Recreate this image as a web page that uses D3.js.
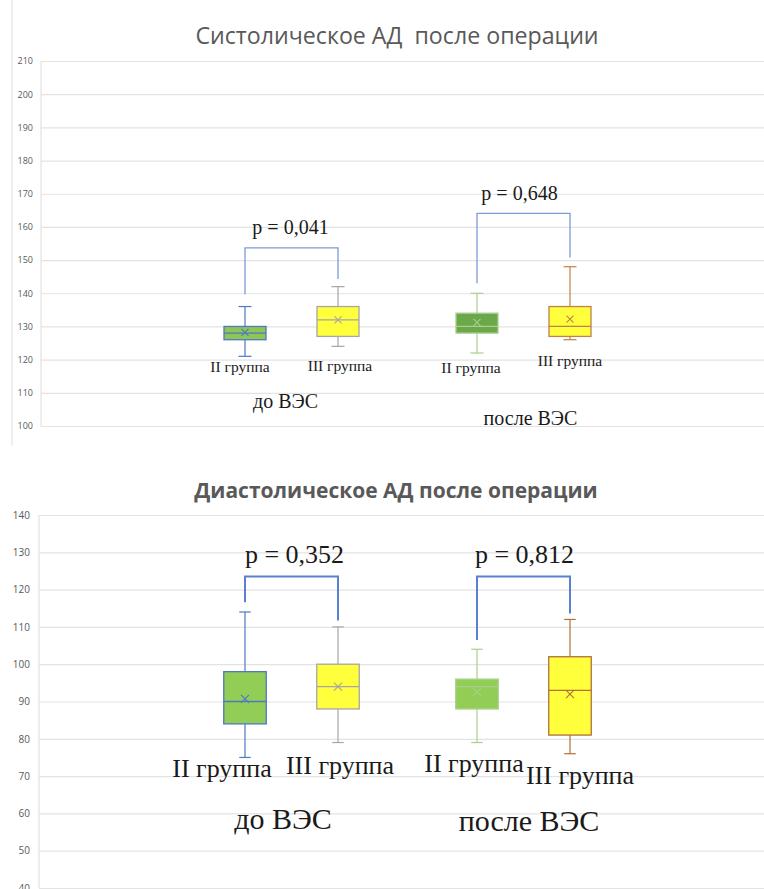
<!DOCTYPE html>
<html>
<head>
<meta charset="utf-8">
<script src="https://cdn.jsdelivr.net/npm/d3@7"></script>
<style>
  html, body { margin: 0; padding: 0; background: #ffffff; }
  svg { display: block; }
</style>
</head>
<body>
<svg id="chart" width="764" height="889"></svg>
<script>
// ---- data ----
const periods = ["до ВЭС", "после ВЭС"];
const groups = ["II группа", "III группа"];

// systolic BP, order: II до, III до, II после, III после
const sysLow    = [121, 124, 122, 126];
const sysQ1     = [126, 127, 128, 127];
const sysMedian = [128, 132, 130, 130];
const sysQ3     = [130, 136, 134, 136];
const sysHigh   = [136, 142, 140, 148];
const sysMean   = [128.2, 132, 131.2, 132.2];
const sysTicks  = [100, 110, 120, 130, 140, 150, 160, 170, 180, 190, 200, 210];
const sysP      = ["p = 0,041", "p = 0,648"];
// bracket: top level, left leg end, right leg end (mmHg)
const sysBracketTop   = [153.7, 164.1];
const sysBracketLeft  = [139.7, 143.0];
const sysBracketRight = [144.3, 150.8];

// diastolic BP
const diaLow    = [75, 79, 79, 76];
const diaQ1     = [84, 88, 88, 81];
const diaMedian = [90, 94, 94, 93];
const diaQ3     = [98, 100, 96, 102];
const diaHigh   = [114, 110, 104, 112];
const diaMean   = [90.7, 94, 92.5, 92];
const diaTicks  = [40, 50, 60, 70, 80, 90, 100, 110, 120, 130, 140];
const diaP      = ["p = 0,352", "p = 0,812"];
const diaBracketTop   = [123.5, 123.5];
const diaBracketLeft  = [116.6, 106.5];
const diaBracketRight = [111.7, 113.6];

// ---- helpers ----
const svg = d3.select("#chart");
const serif = "'Liberation Serif', 'Times New Roman', serif";
const sans = "'Open Sans', 'Noto Sans', sans-serif";

const outerX = d3.scalePoint().domain(periods).range([59.5, 755.5]).padding(1);
const innerX = d3.scalePoint().domain(groups).range([-46.5, 46.5]);

function buildRows(low, q1, med, q3, high, mean) {
  const rows = [];
  periods.forEach((p, pi) => groups.forEach((g, gi) => {
    const i = pi * 2 + gi;
    rows.push({ period: p, group: g, i, low: low[i], q1: q1[i], med: med[i], q3: q3[i], high: high[i], mean: mean[i] });
  }));
  return rows;
}

function drawChart(cfg) {
  const g = svg.append("g");
  const y = d3.scaleLinear().domain(cfg.domain).range(cfg.yRange);

  // gridlines + axis labels
  const axis = d3.axisLeft(y).tickValues(cfg.ticks).tickSize(-(cfg.xRight - cfg.xLeft)).tickPadding(cfg.tickPad);
  const ax = g.append("g").attr("transform", `translate(${cfg.xLeft},0)`).call(axis);
  ax.select(".domain").attr("stroke", "#dcdcdc").attr("d", `M0,${y(cfg.domain[1])}V${y(cfg.domain[0])}`);
  ax.selectAll(".tick line").attr("stroke", "#e3e3e3").attr("stroke-width", 1.2);
  ax.selectAll(".tick text").attr("fill", "#595959").style("font-family", sans).style("font-size", cfg.tickFont + "px");

  // title
  g.append("text")
    .attr("x", cfg.titleX).attr("y", cfg.titleY)
    .attr("text-anchor", "middle")
    .attr("fill", "#595959")
    .style("font-family", sans)
    .style("font-weight", cfg.titleWeight)
    .style("font-size", cfg.titleSize + "px")
    .style("white-space", "pre")
    .text(cfg.title);

  const rows = cfg.rows;
  const cx = d => outerX(d.period) + innerX(d.group);
  const half = cfg.boxW / 2, cap = cfg.capW / 2;

  const box = g.selectAll(".box").data(rows).join("g").attr("class", "box");
  // whiskers
  box.append("line").attr("x1", cx).attr("x2", cx).attr("y1", d => y(d.q3)).attr("y2", d => y(d.high))
    .attr("stroke", d => cfg.whisker[d.i]).attr("stroke-width", 1.2);
  box.append("line").attr("x1", cx).attr("x2", cx).attr("y1", d => y(d.q1)).attr("y2", d => y(d.low))
    .attr("stroke", d => cfg.whisker[d.i]).attr("stroke-width", 1.2);
  box.append("line").attr("x1", d => cx(d) - cap).attr("x2", d => cx(d) + cap).attr("y1", d => y(d.high)).attr("y2", d => y(d.high))
    .attr("stroke", d => cfg.whisker[d.i]).attr("stroke-width", 1.2);
  box.append("line").attr("x1", d => cx(d) - cap).attr("x2", d => cx(d) + cap).attr("y1", d => y(d.low)).attr("y2", d => y(d.low))
    .attr("stroke", d => cfg.whisker[d.i]).attr("stroke-width", 1.2);
  // box
  box.append("rect").attr("x", d => cx(d) - half).attr("width", cfg.boxW)
    .attr("y", d => y(d.q3)).attr("height", d => y(d.q1) - y(d.q3))
    .attr("fill", d => cfg.fill[d.i]).attr("stroke", d => cfg.stroke[d.i]).attr("stroke-width", 1.3);
  // median
  box.append("line").attr("x1", d => cx(d) - half).attr("x2", d => cx(d) + half)
    .attr("y1", d => y(d.med)).attr("y2", d => y(d.med))
    .attr("stroke", d => cfg.stroke[d.i]).attr("stroke-width", 1.3);
  // mean marker
  const m = cfg.markSize / 2;
  box.append("path")
    .attr("d", d => { const x0 = cx(d), y0 = y(d.mean); return `M${x0 - m},${y0 - m}L${x0 + m},${y0 + m}M${x0 - m},${y0 + m}L${x0 + m},${y0 - m}`; })
    .attr("stroke", d => cfg.stroke[d.i]).attr("stroke-width", 1.1).attr("fill", "none");

  // group labels under boxes
  g.selectAll(".glabel").data(rows).join("text").attr("class", "glabel")
    .attr("x", d => cx(d) + cfg.labelDx[d.i]).attr("y", d => cfg.labelY[d.i])
    .attr("text-anchor", "middle").attr("dominant-baseline", "central")
    .attr("fill", "#1a1a1a").style("font-family", serif).style("font-size", cfg.labelSize + "px")
    .text(d => d.group);

  // period labels
  g.selectAll(".plabel").data(periods).join("text").attr("class", "plabel")
    .attr("x", (d, i) => outerX(d) + cfg.periodDx[i]).attr("y", (d, i) => cfg.periodY[i])
    .attr("text-anchor", "middle").attr("dominant-baseline", "central")
    .attr("fill", "#1a1a1a").style("font-family", serif).style("font-size", cfg.periodSize + "px")
    .text(d => d);

  // significance brackets
  periods.forEach((p, pi) => {
    const xl = outerX(p) + innerX(groups[0]);
    const xr = outerX(p) + innerX(groups[1]);
    const yt = y(cfg.bTop[pi]);
    g.append("path")
      .attr("d", `M${xl},${y(cfg.bLeft[pi])}V${yt}H${xr}V${y(cfg.bRight[pi])}`)
      .attr("fill", "none").attr("stroke", cfg.bColor).attr("stroke-width", cfg.bWidth);
    g.append("text")
      .attr("x", (xl + xr) / 2 + cfg.pDx[pi]).attr("y", yt - cfg.pGap)
      .attr("text-anchor", "middle")
      .attr("fill", "#1a1a1a").style("font-family", serif).style("font-size", cfg.pSize + "px")
      .text(cfg.pText[pi]);
  });
}

// left frame line of the upper panel
svg.append("line").attr("x1", 12).attr("x2", 12).attr("y1", 0).attr("y2", 446)
  .attr("stroke", "#e6e6e6").attr("stroke-width", 1.2);

drawChart({
  title: "Систолическое АД  после операции",
  titleX: 397, titleY: 44, titleSize: 23.2, titleWeight: 400,
  domain: [100, 210], yRange: [426, 61], ticks: sysTicks,
  xLeft: 41, xRight: 764, tickPad: 8, tickFont: 9,
  rows: buildRows(sysLow, sysQ1, sysMedian, sysQ3, sysHigh, sysMean),
  boxW: 42, capW: 13, markSize: 7,
  fill:    ["#8dc653", "#ffff3c", "#6aa84a", "#ffff3c"],
  stroke:  ["#4f78c4", "#a6a6a6", "#a9cf8e", "#c0804a"],
  whisker: ["#4f78c4", "#a6a6a6", "#a9cf8e", "#c0804a"],
  labelDx: [-5, 2, -6, 0], labelY: [366, 365, 367, 360], labelSize: 15.5,
  periodDx: [-6, 7], periodY: [401, 418], periodSize: 20,
  bTop: sysBracketTop, bLeft: sysBracketLeft, bRight: sysBracketRight,
  bColor: "#7f9ad6", bWidth: 1.3, pGap: 13.5, pDx: [-1, -4], pSize: 20, pText: sysP
});

drawChart({
  title: "Диастолическое АД после операции",
  titleX: 396, titleY: 498, titleSize: 21, titleWeight: 700,
  domain: [40, 140], yRange: [888, 515], ticks: diaTicks,
  xLeft: 39, xRight: 764, tickPad: 9, tickFont: 10,
  rows: buildRows(diaLow, diaQ1, diaMedian, diaQ3, diaHigh, diaMean),
  boxW: 42.5, capW: 11.5, markSize: 8,
  fill:    ["#92cd55", "#ffff3c", "#92cd55", "#ffff3c"],
  stroke:  ["#4f78c4", "#a6a6a6", "#a9cf8e", "#b0703a"],
  whisker: ["#4f78c4", "#a6a6a6", "#a9cf8e", "#b0703a"],
  labelDx: [-23, 2, -3, 10], labelY: [768, 765, 763, 775], labelSize: 26,
  periodDx: [-8.5, 5.5], periodY: [818, 820], periodSize: 30,
  bTop: diaBracketTop, bLeft: diaBracketLeft, bRight: diaBracketRight,
  bColor: "#5b80d0", bWidth: 2, pGap: 14, pDx: [3, 1], pSize: 26, pText: diaP
});
</script>
</body>
</html>
